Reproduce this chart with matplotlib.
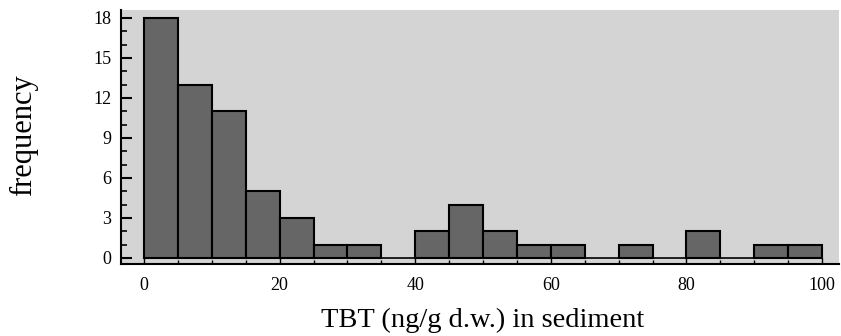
import matplotlib
matplotlib.use("Agg")
import matplotlib.pyplot as plt
import numpy as np
from matplotlib.ticker import MultipleLocator

bin_edges = list(range(0, 101, 5))
counts = [18, 13, 11, 5, 3, 1, 1, 0, 2, 4, 2, 1, 1, 0, 1, 0, 2, 0, 1, 1]
xticks = [0, 20, 40, 60, 80, 100]
yticks = [0, 3, 6, 9, 12, 15, 18]

plt.rcParams['font.family'] = ['Liberation Serif', 'DejaVu Serif']

fig = plt.figure(figsize=(8.41, 3.36), dpi=100)
ax = fig.add_axes([121/841, 1 - 264/336, (839-121)/841, (264-10)/336])
ax.set_facecolor('#d4d4d4')

left = np.array(bin_edges[:-1])
for l, c in zip(left, counts):
    if c > 0:
        ax.bar(l, c, width=5, align='edge', color='#666666', edgecolor='black', linewidth=1.5, zorder=3)
ax.plot([bin_edges[0], bin_edges[-1]], [0, 0], color='black', linewidth=1.2, zorder=4)

ax.set_xlim(-3.4, 102.5)
ax.set_ylim(-0.45, 18.6)
ax.set_xticks(xticks)
ax.set_xticklabels([str(t) for t in xticks])
ax.xaxis.set_minor_locator(MultipleLocator(5))
ax.set_yticks(yticks)
ax.set_yticklabels([str(t) for t in yticks])
ax.yaxis.set_minor_locator(MultipleLocator(1))
ax.tick_params(axis='y', which='major', direction='in', length=8, width=1.5, labelsize=13, pad=7)
ax.tick_params(axis='y', which='minor', direction='in', length=4, width=1.2)
ax.tick_params(axis='x', which='major', direction='in', length=4, width=1, labelsize=13, pad=9)
ax.tick_params(axis='x', which='minor', direction='in', length=3, width=1)

for s in ['top', 'right']:
    ax.spines[s].set_visible(False)
ax.spines['left'].set_linewidth(1.5)
ax.spines['bottom'].set_linewidth(1.5)

fig.text(483/841, 1 - 320/336, 'TBT (ng/g d.w.) in sediment', fontsize=20.5, ha='center', va='center')
fig.text(24/841, 1 - 135/336, 'frequency', rotation=90, fontsize=22, ha='center', va='center')

fig.savefig('out.png', dpi=100)
